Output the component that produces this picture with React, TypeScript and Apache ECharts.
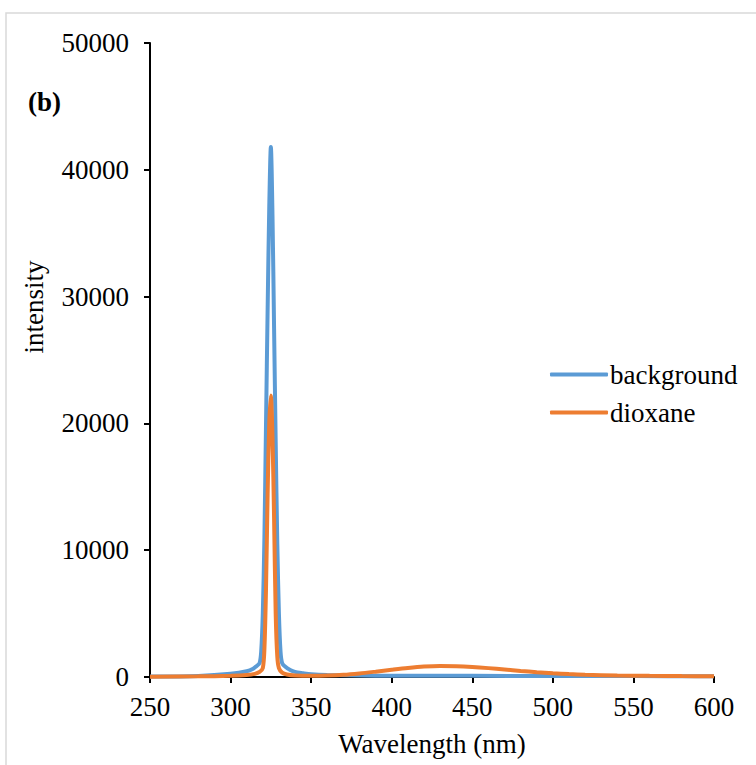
import React, { useEffect, useRef } from "react";
import * as echarts from "echarts";

const xTicks = [250, 300, 350, 400, 450, 500, 550, 600];
const yTicks = [0, 10000, 20000, 30000, 40000, 50000];

const bgWave = [250, 280, 300, 310, 314, 316, 318, 319, 320, 321, 322, 323, 324, 325, 326, 327, 328, 329, 330, 331, 332, 334, 337, 340, 345, 350, 360, 380, 400, 450, 500, 550, 600];
const bgVals = [30, 80, 250, 450, 650, 850, 1100, 2000, 5000, 11000, 20000, 29000, 37000, 41800, 36500, 27500, 18500, 10500, 5000, 2000, 1100, 800, 550, 400, 300, 220, 160, 120, 100, 90, 80, 70, 60];

const dxWave = [250, 280, 300, 310, 315, 318, 320, 321, 322, 323, 324, 325, 326, 327, 328, 329, 330, 332, 335, 340, 350, 360, 370, 380, 390, 400, 410, 420, 430, 440, 450, 460, 470, 480, 490, 500, 510, 520, 540, 560, 580, 600];
const dxVals = [20, 50, 90, 150, 250, 400, 700, 2200, 7000, 14500, 20000, 22200, 19000, 12500, 5000, 1600, 700, 350, 200, 120, 90, 110, 170, 280, 420, 570, 710, 820, 870, 850, 790, 700, 590, 480, 380, 300, 230, 180, 120, 90, 70, 60];

const seriesNames = ["background", "dioxane"];
const colors = ["#5b9bd5", "#ed7d31"];

const FONT = "'Liberation Serif', 'Times New Roman', serif";

export default function App() {
  const ref = useRef<HTMLDivElement>(null);
  useEffect(() => {
    if (!ref.current) return;
    const chart = echarts.init(ref.current, null, { renderer: "svg" });
    const bgData = bgWave.map((w, i) => [w, bgVals[i]]);
    const dxData = dxWave.map((w, i) => [w, dxVals[i]]);
    chart.setOption({
      animation: false,
      backgroundColor: "#ffffff",
      textStyle: { fontFamily: FONT },
      grid: { left: 150, right: 42, top: 43, bottom: 88, containLabel: false },
      graphic: [
        {
          type: "rect",
          shape: { x: 6, y: 13, width: 800, height: 800 },
          style: { fill: "none", stroke: "#d9d9d9", lineWidth: 1.5 },
          silent: true,
        },
        {
          type: "text",
          left: 28,
          top: 88,
          style: { text: "(b)", font: `bold 27px ${FONT}`, fill: "#000" },
        },
        {
          type: "text",
          x: 34,
          y: 307,
          rotation: Math.PI / 2,
          style: {
            text: "intensity",
            font: `27px ${FONT}`,
            fill: "#000",
            align: "center",
            verticalAlign: "middle",
          },
        },
      ],
      legend: {
        orient: "vertical",
        left: 545,
        top: 356,
        itemWidth: 58,
        itemHeight: 4,
        itemGap: 11,
        icon: "roundRect",
        textStyle: { fontFamily: FONT, fontSize: 27, color: "#000", padding: [0, 0, 0, -3] },
        data: seriesNames,
      },
      xAxis: {
        type: "value",
        min: 250,
        max: 600,
        interval: 50,
        name: "Wavelength (nm)",
        nameLocation: "middle",
        nameGap: 53,
        nameTextStyle: { fontFamily: FONT, fontSize: 27, color: "#000" },
        axisLine: { show: true, onZero: false, lineStyle: { color: "#000", width: 2 } },
        axisTick: { show: true, length: 6, lineStyle: { color: "#000", width: 2 } },
        axisLabel: {
          fontFamily: FONT,
          fontSize: 27,
          color: "#000",
          margin: 16,
          formatter: (v: number) => (xTicks.includes(v) ? String(v) : ""),
        },
        splitLine: { show: false },
      },
      yAxis: {
        type: "value",
        min: 0,
        max: 50000,
        interval: 10000,
        axisLine: { show: true, lineStyle: { color: "#000", width: 2 } },
        axisTick: { show: true, length: 6, lineStyle: { color: "#000", width: 2 } },
        axisLabel: {
          fontFamily: FONT,
          fontSize: 27,
          color: "#000",
          margin: 21,
          formatter: (v: number) => (yTicks.includes(v) ? String(v) : ""),
        },
        splitLine: { show: false },
      },
      series: [
        {
          name: seriesNames[0],
          type: "line",
          data: bgData,
          smooth: 0.3,
          symbol: "none",
          lineStyle: { color: colors[0], width: 4 },
          itemStyle: { color: colors[0] },
        },
        {
          name: seriesNames[1],
          type: "line",
          data: dxData,
          smooth: 0.3,
          symbol: "none",
          lineStyle: { color: colors[1], width: 4 },
          itemStyle: { color: colors[1] },
        },
      ],
    });
    return () => chart.dispose();
  }, []);
  return (
    <div
      ref={ref}
      style={{ position: "absolute", left: 0, top: 0, width: 756, height: 765 }}
    />
  );
}
